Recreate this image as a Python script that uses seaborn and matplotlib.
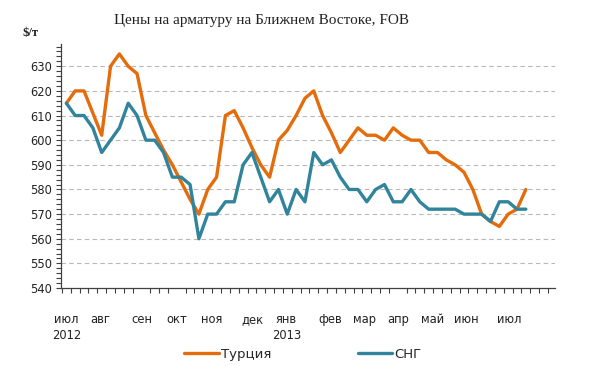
import numpy as np
import pandas as pd
import matplotlib
matplotlib.use("Agg")
import matplotlib.pyplot as plt
from matplotlib.ticker import MultipleLocator, FixedLocator, NullFormatter
import seaborn as sns

TITLE = "Цены на арматуру на Ближнем Востоке, FOB"
UNIT = "$/т"
SERIES = ["Турция", "СНГ"]

# weekly FOB prices, Jul 2012 - Jul 2013
turkey = [615, 620, 620, 611, 602, 630, 635, 630, 627, 610,
          603, 596, 590, 583, 576, 570, 580, 585, 610, 612,
          605, 597, 590, 585, 600, 604, 610, 617, 620, 610,
          603, 595, 600, 605, 602, 602, 600, 605, 602, 600,
          600, 595, 595, 592, 590, 587, 580, 570, 567, 565,
          570, 572, 580]
cis = [615, 610, 610, 605, 595, 600, 605, 615, 610, 600,
       600, 595, 585, 585, 582, 560, 570, 570, 575, 575,
       590, 595, 585, 575, 580, 570, 580, 575, 595, 590,
       592, 585, 580, 580, 575, 580, 582, 575, 575, 580,
       575, 572, 572, 572, 572, 570, 570, 570, 567, 575,
       575, 572, 572]

months = ["июл\n2012", "авг", "сен", "окт", "ноя", "дек", "янв\n2013",
          "фев", "мар", "апр", "май", "июн", "июл"]
y_ticks = [540, 550, 560, 570, 580, 590, 600, 610, 620, 630]

COLORS = {"Турция": "#E46C0A", "СНГ": "#31849B"}


def plot_chart():
    df = pd.DataFrame({"week": np.arange(len(turkey)),
                       "Турция": turkey, "СНГ": cis})
    long = df.melt(id_vars="week", var_name="series", value_name="price")

    fig = plt.figure(figsize=(6, 3.8), dpi=100)
    ax = fig.add_axes([0.1025, 0.242, 0.8225, 0.642])

    sns.lineplot(data=long, x="week", y="price", hue="series",
                 hue_order=SERIES, palette=COLORS, linewidth=2.4,
                 ax=ax, legend=False)

    ax.set_xlim(-0.55, 55.3)
    ax.set_ylim(540, 639)
    ax.set_xlabel("")
    ax.set_ylabel("")

    # y axis
    ax.yaxis.set_major_locator(FixedLocator(y_ticks))
    ax.yaxis.set_minor_locator(MultipleLocator(2))
    ax.tick_params(axis="y", which="both", left=True, direction="out",
                   length=3.5, width=0.8, color="#404040", labelsize=8.3,
                   labelcolor="#222222", pad=3)
    for v in y_ticks[1:]:
        ax.axhline(v, color="#B8B8B8", lw=0.8, ls=(0, (4, 3)), zorder=0)

    # x axis: week boundaries as ticks, month names as labels
    month_at = [0, 3.8, 8.5, 12.5, 16.4, 21.1, 24.9, 29.9, 33.7, 37.5,
                41.4, 45.3, 50.1]
    ax.xaxis.set_minor_locator(FixedLocator(np.arange(-0.5, 55, 1.0)))
    ax.xaxis.set_minor_formatter(NullFormatter())
    ax.set_xticks(month_at)
    ax.set_xticklabels(months, fontsize=8.3, color="#222222",
                       linespacing=1.25, va="top")
    ax.tick_params(axis="x", which="major", length=0, pad=18)
    ax.tick_params(axis="x", which="minor", bottom=True, direction="out",
                   length=3.5, width=0.8, color="#404040")

    for s in ["top", "right"]:
        ax.spines[s].set_visible(False)
    for s in ["left", "bottom"]:
        ax.spines[s].set_color("#404040")
        ax.spines[s].set_linewidth(0.9)

    fig.text(0.435, 0.945, TITLE, ha="center", va="center",
             family="Liberation Serif", fontsize=11, color="#222222")
    fig.text(0.038, 0.913, UNIT, ha="left", va="center",
             family="Liberation Serif", fontsize=9, fontweight="bold",
             color="#222222")

    handles = [plt.Line2D([], [], color=COLORS[s], lw=2.4) for s in SERIES]
    fig.legend(handles, SERIES, loc="center", bbox_to_anchor=(0.505, 0.068),
               ncol=2, frameon=False, fontsize=9.5, handlelength=2.6,
               handletextpad=0.2, columnspacing=6.5)

    fig.savefig("out.png", dpi=100, facecolor="white")


def main():
    sns.set_style("white")
    plt.rcParams["font.family"] = ["DejaVu Sans"]
    plot_chart()


if __name__ == "__main__":
    main()
